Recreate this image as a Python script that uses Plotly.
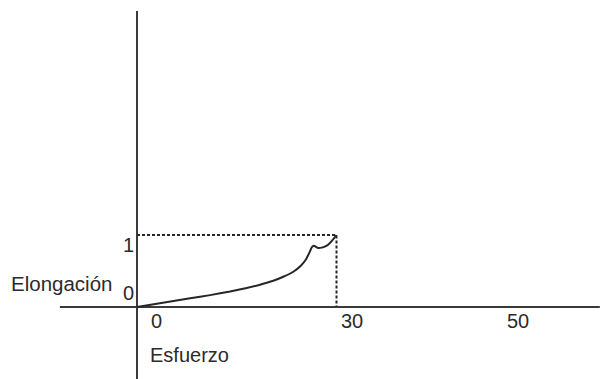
import plotly.graph_objects as go

# Stress–elongation curve (schematic)
esfuerzo = [0, 3.9, 8.0, 11.0, 14.0, 16.5, 18.5, 20.5, 22.0, 23.5, 24.6, 25.4, 26.0, 26.3, 26.6, 27.2, 27.8, 28.6, 29.4, 30.0]
elongacion = [0, 0.06, 0.12, 0.165, 0.215, 0.265, 0.31, 0.365, 0.42, 0.49, 0.57, 0.66, 0.77, 0.83, 0.85, 0.82, 0.825, 0.855, 0.93, 1.0]

# Marked point at the end of the curve
x_max = 30
y_max = 1

# Axis labels placed beside the axes
x_tick_pos = [2.9, 32.3, 57.3]
x_tick_text = ["0", "30", "50"]
y_tick_pos = [0.19, 0.86]
y_tick_text = ["0", "1"]

ink = "#262626"
font = dict(family="Liberation Sans, Arial, sans-serif", size=20, color="#2b2b2b")

fig = go.Figure()

# Axes drawn as lines crossing at the origin
fig.add_trace(go.Scatter(x=[-11.6, 69.6], y=[0, 0], mode="lines",
                         line=dict(color="#3a3a3a", width=2), hoverinfo="skip"))
fig.add_trace(go.Scatter(x=[0, 0], y=[-1.0, 4.11], mode="lines",
                         line=dict(color="#3a3a3a", width=2), hoverinfo="skip"))

# Dotted guide lines to the end point
fig.add_trace(go.Scatter(x=[0, x_max, x_max], y=[y_max, y_max, 0], mode="lines",
                         line=dict(color=ink, width=2, dash="3px,2px"), hoverinfo="skip"))

# The curve
fig.add_trace(go.Scatter(x=esfuerzo, y=elongacion, mode="lines",
                         line=dict(color=ink, width=2, shape="spline", smoothing=0.5)))

ann = []
for xp, t in zip(x_tick_pos, x_tick_text):
    ann.append(dict(x=xp, y=-0.2, text=t, showarrow=False, xanchor="center", yanchor="middle", font=font))
for yp, t in zip(y_tick_pos, y_tick_text):
    ann.append(dict(x=-1.35, y=yp, text=t, showarrow=False, xanchor="center", yanchor="middle", font=font))
ann.append(dict(x=-19.3, y=0.33, text="Elongación", showarrow=False, xanchor="left", yanchor="middle",
                font=dict(family=font["family"], size=20.5, color=font["color"])))
ann.append(dict(x=1.65, y=-0.66, text="Esfuerzo", showarrow=False, xanchor="left", yanchor="middle", font=font))

fig.update_layout(
    width=606, height=379,
    margin=dict(l=0, r=0, t=0, b=0),
    paper_bgcolor="white", plot_bgcolor="white",
    showlegend=False,
    annotations=ann,
    xaxis=dict(range=[-137 / 6.65, (606 - 137) / 6.65], visible=False, fixedrange=True),
    yaxis=dict(range=[(307 - 379) / 72, 307 / 72], visible=False, fixedrange=True),
)

fig.write_html("out.html")
